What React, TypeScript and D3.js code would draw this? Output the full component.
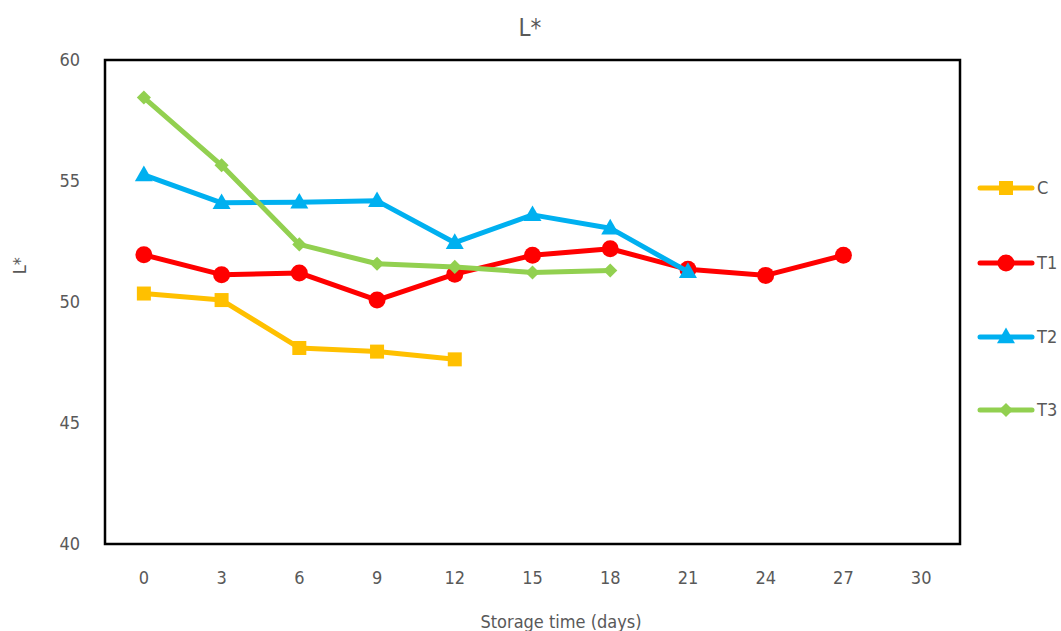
import React from "react";
import * as d3 from "d3";

const days = ["0", "3", "6", "9", "12", "15", "18", "21", "24", "27", "30"];
const seriesNames = ["C", "T1", "T2", "T3"];
const cValues = [50.35, 50.08, 48.1, 47.95, 47.63];
const t1Values = [51.95, 51.13, 51.2, 50.08, 51.15, 51.93, 52.2, 51.35, 51.1, 51.93];
const t2Values = [55.25, 54.1, 54.12, 54.18, 52.45, 53.6, 53.05, 51.25];
const t3Values = [58.45, 55.65, 52.38, 51.58, 51.45, 51.22, 51.3];
const colors = ["#FFC000", "#FF0000", "#00B0F0", "#92D050"];
const yTicks = [40, 45, 50, 55, 60];

const W = 1061;
const H = 631;
const margin = { top: 60, right: 101, bottom: 87, left: 105 };
const font = "'Liberation Sans Narrow', 'DejaVu Sans Condensed', 'Open Sans', sans-serif";

function Marker({ i, x, y }: { i: number; x: number; y: number }) {
  const c = colors[i];
  if (i === 0) return <rect x={x - 7} y={y - 7} width={14} height={14} fill={c} />;
  if (i === 1) return <circle cx={x} cy={y} r={8.5} fill={c} />;
  if (i === 2) {
    const p = d3.symbol(d3.symbolTriangle, 140)();
    return <path d={p || ""} transform={`translate(${x},${y + 1})`} fill={c} />;
  }
  // diamond: square turned 45 degrees
  return <rect x={x - 5} y={y - 5} width={10} height={10} fill={c} transform={`rotate(45,${x},${y})`} />;
}

export default function App() {
  const data = [cValues, t1Values, t2Values, t3Values];
  const x = d3
    .scaleBand()
    .domain(days)
    .range([margin.left, W - margin.right])
    .padding(0);
  const y = d3.scaleLinear().domain([40, 60]).range([H - margin.bottom, margin.top]);
  const cx = (j: number) => (x(days[j]) || 0) + x.bandwidth() / 2;

  const line = d3
    .line<number>()
    .x((d, j) => cx(j))
    .y((d) => y(d));

  const legendY = [188, 263, 337, 410];

  return (
    <svg width={W} height={H} style={{ position: "absolute", left: 0, top: 0, background: "#fff" }} fontFamily={font}>
      <text x={530} y={36} textAnchor="middle" fontSize={24} fill="#595959">
        L*
      </text>
      {yTicks.map((t) => (
        <text key={t} x={80} y={y(t)} dy="0.35em" textAnchor="end" fontSize={18} fill="#595959">
          {t}
        </text>
      ))}
      {days.map((d, j) => (
        <text key={d} x={cx(j)} y={584} textAnchor="middle" fontSize={18} fill="#595959">
          {d}
        </text>
      ))}
      <text x={561} y={628} textAnchor="middle" fontSize={18} fill="#595959">
        Storage time (days)
      </text>
      <text transform={`translate(26,${y(51.5)}) rotate(-90)`} textAnchor="middle" fontSize={18} fill="#595959">
        L*
      </text>
      <rect
        x={margin.left}
        y={margin.top}
        width={W - margin.left - margin.right}
        height={H - margin.top - margin.bottom}
        fill="none"
        stroke="#000"
        strokeWidth={2.5}
      />
      {data.map((vals, i) => (
        <g key={seriesNames[i]}>
          <path d={line(vals) || ""} fill="none" stroke={colors[i]} strokeWidth={5} strokeLinejoin="round" />
          {vals.map((v, j) => (
            <Marker key={j} i={i} x={cx(j)} y={y(v)} />
          ))}
        </g>
      ))}
      {seriesNames.map((n, i) => (
        <g key={n}>
          <line x1={980} x2={1032} y1={legendY[i]} y2={legendY[i]} stroke={colors[i]} strokeWidth={5} strokeLinecap="round" />
          <Marker i={i} x={1006} y={legendY[i]} />
          <text x={1037} y={legendY[i]} dy="0.35em" fontSize={18} fill="#595959">
            {n}
          </text>
        </g>
      ))}
    </svg>
  );
}
